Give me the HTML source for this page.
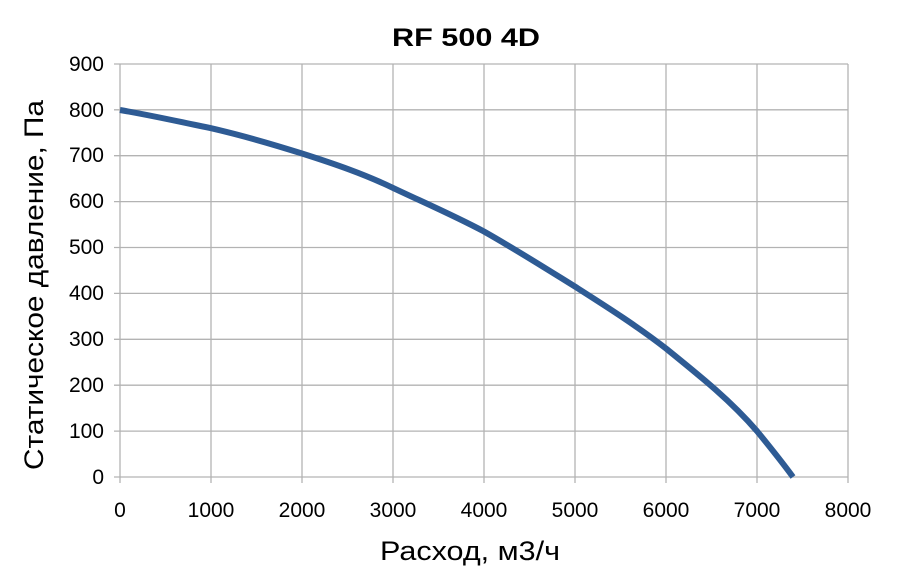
<!DOCTYPE html>
<html><head><meta charset="utf-8"><style>body{margin:0;background:#fff}svg{display:block}text{font-family:"Liberation Sans",sans-serif;fill:#000}</style></head><body>
<svg width="900" height="574" viewBox="0 0 900 574" xmlns="http://www.w3.org/2000/svg">
<rect width="900" height="574" fill="#fff"/>
<g stroke="#b3b3b3" stroke-width="1.3">
<line x1="114" y1="477" x2="848" y2="477"/>
<line x1="114" y1="431.1" x2="848" y2="431.1"/>
<line x1="114" y1="385.2" x2="848" y2="385.2"/>
<line x1="114" y1="339.3" x2="848" y2="339.3"/>
<line x1="114" y1="293.4" x2="848" y2="293.4"/>
<line x1="114" y1="247.5" x2="848" y2="247.5"/>
<line x1="114" y1="201.6" x2="848" y2="201.6"/>
<line x1="114" y1="155.7" x2="848" y2="155.7"/>
<line x1="114" y1="109.8" x2="848" y2="109.8"/>
<line x1="114" y1="64" x2="848" y2="64"/>
<line x1="120" y1="64" x2="120" y2="483"/>
<line x1="211" y1="64" x2="211" y2="483"/>
<line x1="302" y1="64" x2="302" y2="483"/>
<line x1="393" y1="64" x2="393" y2="483"/>
<line x1="484" y1="64" x2="484" y2="483"/>
<line x1="575" y1="64" x2="575" y2="483"/>
<line x1="666" y1="64" x2="666" y2="483"/>
<line x1="757" y1="64" x2="757" y2="483"/>
<line x1="848" y1="64" x2="848" y2="483"/>
</g>
<g font-size="21" text-anchor="end">
<text x="104" y="484">0</text><text x="104" y="438">100</text><text x="104" y="392">200</text><text x="104" y="346">300</text><text x="104" y="300">400</text><text x="104" y="254">500</text><text x="104" y="208">600</text><text x="104" y="162">700</text><text x="104" y="117">800</text><text x="104" y="71">900</text>
</g>
<g font-size="21" text-anchor="middle">
<text x="120" y="517">0</text><text x="211" y="517">1000</text><text x="302" y="517">2000</text><text x="393" y="517">3000</text><text x="484" y="517">4000</text><text x="575" y="517">5000</text><text x="666" y="517">6000</text><text x="757" y="517">7000</text><text x="848" y="517">8000</text>
</g>
<text x="392" y="46" font-size="25" font-weight="bold" textLength="148" lengthAdjust="spacingAndGlyphs">RF 500 4D</text>
<text x="380" y="560" font-size="27" textLength="180" lengthAdjust="spacingAndGlyphs">Расход, м3/ч</text>
<text transform="translate(43,470) rotate(-90)" font-size="27" textLength="370" lengthAdjust="spacingAndGlyphs">Статическое давление, Па</text>
<path d="M120,110 C160,117 180,122 211,128.2 C245,136 275,145 302,153.5 C335,164 364,174 393,187.9 C425,203 455,216 484,231.5 C515,249 545,268 575,286.6 C607,307 637,326 666,348.5 C700,376 730,400 757,431.1 C770,447 782,462 793,477" fill="none" stroke="#2e5b94" stroke-width="6"/>
</svg>
</body></html>
